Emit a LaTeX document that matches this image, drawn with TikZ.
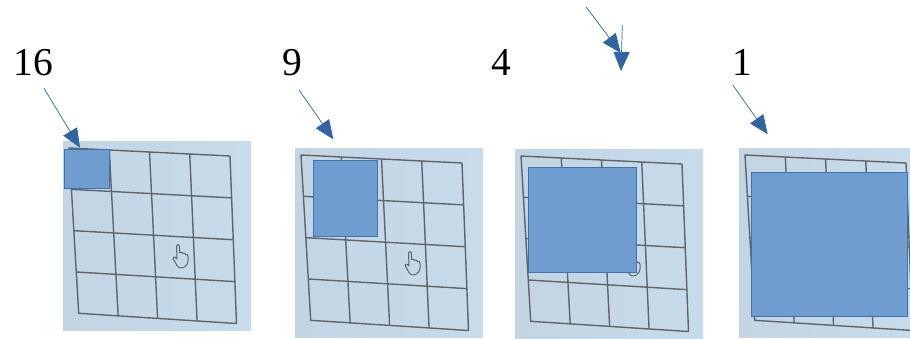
\documentclass[tikz,border=0pt]{standalone}
\usepackage{fontspec}
\setmainfont{Liberation Serif}
\usetikzlibrary{arrows.meta,calc}
\definecolor{photoL}{HTML}{C3D5E3}
\definecolor{photoR}{HTML}{C8DBEB}
\definecolor{gridline}{HTML}{5F6468}
\definecolor{bluefill}{HTML}{709DCF}
\definecolor{blueedge}{HTML}{3F72AF}
\definecolor{arrowblue}{HTML}{2F64A6}
\tikzset{
  photo/.style={left color=photoL,right color=photoR,draw=none},
  gridstroke/.style={draw=gridline,line width=1.4pt,line join=round},
  handstroke/.style={draw=gridline,line width=1pt,line join=round},
  marker/.style={fill=bluefill,draw=blueedge,line width=0.8pt},
  pointer/.style={draw=arrowblue,line width=0.7pt,-{Triangle[length=19pt,width=16pt,fill=arrowblue]},shorten >=0pt},
  count/.style={font=\fontsize{39.5}{39.5}\selectfont,anchor=base west,inner sep=0pt,text=black}
}
% #1 name, #2 x, #3 y, #4 photo width
\newcommand{\gridpanel}[4]{%
  \begin{scope}[shift={(#2,#3)}]
    \clip (0,0) rectangle (#4,189);
    \path[photo] (0,0) rectangle (#4,189);
    \coordinate (#1TL) at (6,7);
    \coordinate (#1TR) at (167,15);
    \coordinate (#1BR) at (173.5,182.5);
    \coordinate (#1BL) at (15.7,172.3);
    \draw[gridstroke] (#1TL) -- (#1TR) -- (#1BR) -- (#1BL) -- cycle;
    \foreach \t in {0.25,0.5,0.75}{
      \draw[gridstroke] ($(#1TL)!\t!(#1TR)$) -- ($(#1BL)!\t!(#1BR)$);
      \draw[gridstroke] ($(#1TL)!\t!(#1BL)$) -- ($(#1TR)!\t!(#1BR)$);
    }
    \begin{scope}[shift={(117.5,114.5)}]
      \draw[handstroke] (0,12.5) .. controls (-3,12) and (-4,9) .. (-7.5,3)
        .. controls (-8,1) and (-5.5,1) .. (-3.5,3.5) -- (-4,-9.5)
        .. controls (-3.5,-11.5) and (-1.5,-11.5) .. (-1.2,-9.5) -- (-0.8,-3)
        .. controls (1,-3.5) and (2,-3) .. (2.5,-2)
        .. controls (4,-2.5) and (5,-2) .. (5,-1)
        .. controls (6.5,-1.5) and (7.5,-0.5) .. (7.5,1)
        .. controls (8.5,6) and (7,12) .. (0,12.5) -- cycle;
    \end{scope}
  \end{scope}}
\begin{document}
\begin{tikzpicture}[x=1pt,y=-1pt]
  \useasboundingbox (0,0) rectangle (910,338);
  \gridpanel{a}{63}{141}{188}
  \gridpanel{b}{295}{148}{188}
  \gridpanel{c}{515}{149}{188}
  \gridpanel{d}{739}{148}{171}

  \node[marker,minimum width=45pt,minimum height=39.5pt,inner sep=0pt,anchor=north west] (m1) at (63.8,148.8) {};
  \node[marker,minimum width=64.7pt,minimum height=76pt,inner sep=0pt,anchor=north west] (m2) at (312.5,160.2) {};
  \node[marker,minimum width=108pt,minimum height=104.7pt,inner sep=0pt,anchor=north west] (m3) at (527.5,166.8) {};
  \node[marker,minimum width=156.4pt,minimum height=144.5pt,inner sep=0pt,anchor=north west] (m4) at (750.8,171.8) {};

  \node[count] (n16) at (13.5,75) {16};
  \node[count] (n9) at (282,75) {9};
  \node[count] (n4) at (491.5,75) {4};
  \node[count] (n1) at (732.5,75) {1};

  \coordinate (s1) at (44,88.3);   \coordinate (e1) at (80,147.7);
  \coordinate (s2) at (299,90);    \coordinate (e2) at (333.3,139.3);
  \coordinate (s3) at (586,6.7);   \coordinate (e3) at (620.7,53);
  \coordinate (s5) at (622.3,25);  \coordinate (e5) at (621,71);
  \coordinate (s4) at (732.7,85);  \coordinate (e4) at (767.7,134.3);
  \draw[pointer] (s1) -- (e1);
  \draw[pointer] (s2) -- (e2);
  \draw[pointer] (s3) -- (e3);
  \draw[pointer] (s5) -- (e5);
  \draw[pointer] (s4) -- (e4);
\end{tikzpicture}
\end{document}
